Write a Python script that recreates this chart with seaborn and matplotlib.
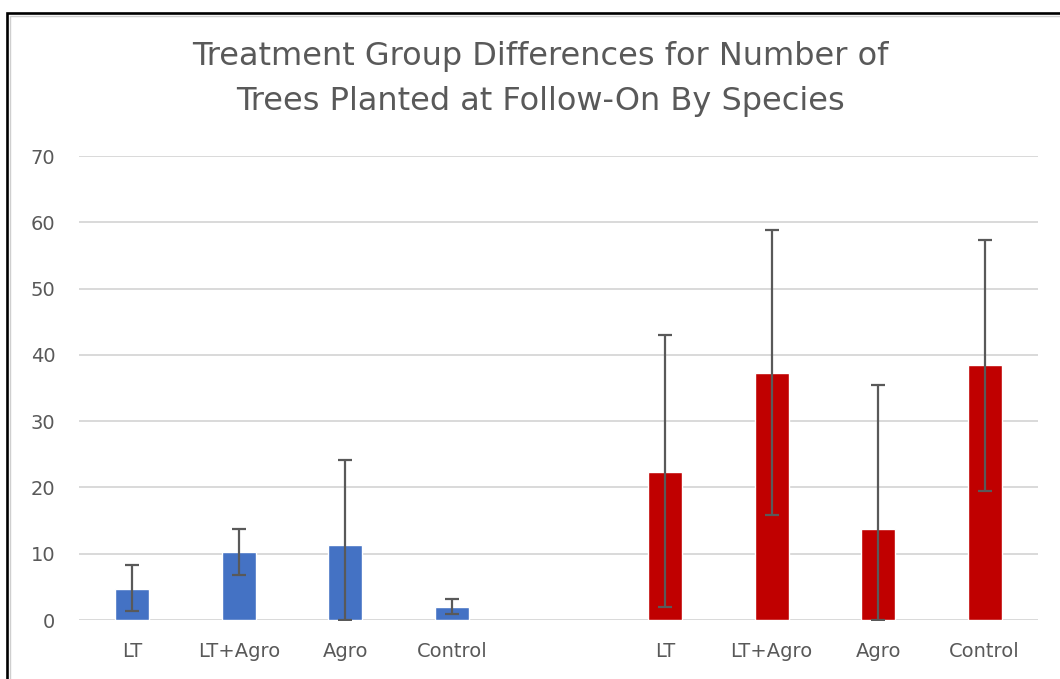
import numpy as np
import pandas as pd
import matplotlib
matplotlib.use("Agg")
import matplotlib.pyplot as plt
from matplotlib.lines import Line2D
import seaborn as sns

# Values
treatments = ["LT", "LT+Agro", "Agro", "Control"]
species = ["Blue", "Red"]
blue_vals = [4.7, 10.2, 11.3, 2.0]
blue_low = [1.3, 6.8, 0.0, 0.9]
blue_high = [8.3, 13.7, 24.2, 3.2]
red_vals = [22.3, 37.3, 13.7, 38.4]
red_low = [1.9, 15.9, 0.0, 19.5]
red_high = [43.0, 58.8, 35.5, 57.4]
y_ticks = [0, 10, 20, 30, 40, 50, 60, 70]
title = "Treatment Group Differences for Number of\nTrees Planted at Follow-On By Species"

grey = "#595959"
colors = {"Blue": "#4472C4", "Red": "#C00000"}

sns.set_theme(style="white")
plt.rcParams["font.family"] = ["DejaVu Sans"]

# one empty slot between the two species groups
rows = []
for g, (sp, vals, lo, hi) in enumerate(zip(species, [blue_vals, red_vals],
                                           [blue_low, red_low], [blue_high, red_high])):
    for i, t in enumerate(treatments):
        rows.append({"pos": g * 5 + i, "treatment": t, "species": sp,
                     "value": vals[i], "low": lo[i], "high": hi[i]})
df = pd.DataFrame(rows)

fig = plt.figure(figsize=(10.6, 6.79), dpi=100)
ax = fig.add_axes([79 / 1060, 59 / 679, 959 / 1060, 464 / 679])

sns.barplot(data=df, x="pos", y="value", hue="species", palette=colors,
            native_scale=True, width=0.32, dodge=False, legend=False,
            saturation=1, errorbar=None, ax=ax, zorder=3)

ax.errorbar(df["pos"], df["value"],
            yerr=[df["value"] - df["low"], df["high"] - df["value"]],
            fmt="none", ecolor=grey, elinewidth=1.6, capsize=5, capthick=1.6, zorder=4)

ax.set_xlim(-0.5, 8.5)
ax.set_ylim(0, 70)
ax.set_yticks(y_ticks)
ax.set_yticklabels([str(v) for v in y_ticks])
ax.set_xticks(df["pos"])
ax.set_xticklabels(df["treatment"])
ax.tick_params(axis="y", length=0, pad=17, labelsize=14, labelcolor=grey)
ax.tick_params(axis="x", length=0, pad=16, labelsize=14, labelcolor=grey)
ax.set_xlabel("")
ax.set_ylabel("")
ax.yaxis.grid(True, color="#d9d9d9", linewidth=1.4, zorder=0)
ax.set_axisbelow(True)
for s in ax.spines.values():
    s.set_visible(False)

fig.text(0.51, 1 - 79 / 679, title, ha="center", va="center", fontsize=23,
         color=grey, linespacing=1.6)

# outer frame (top and left edges visible in the reference)
x0, y0 = 7 / 1060, 1 - 13 / 679
fig.add_artist(Line2D([x0, x0, 1.0], [0.0, y0, y0], color="black", linewidth=1.9,
                      solid_joinstyle="miter"))
fig.add_artist(Line2D([x0 + 2.5 / 1060, x0 + 2.5 / 1060, 1.0],
                      [0.0, y0 - 2.5 / 679, y0 - 2.5 / 679], color="#cfcfcf", linewidth=1))

fig.savefig("out.png", dpi=100, facecolor="white")
